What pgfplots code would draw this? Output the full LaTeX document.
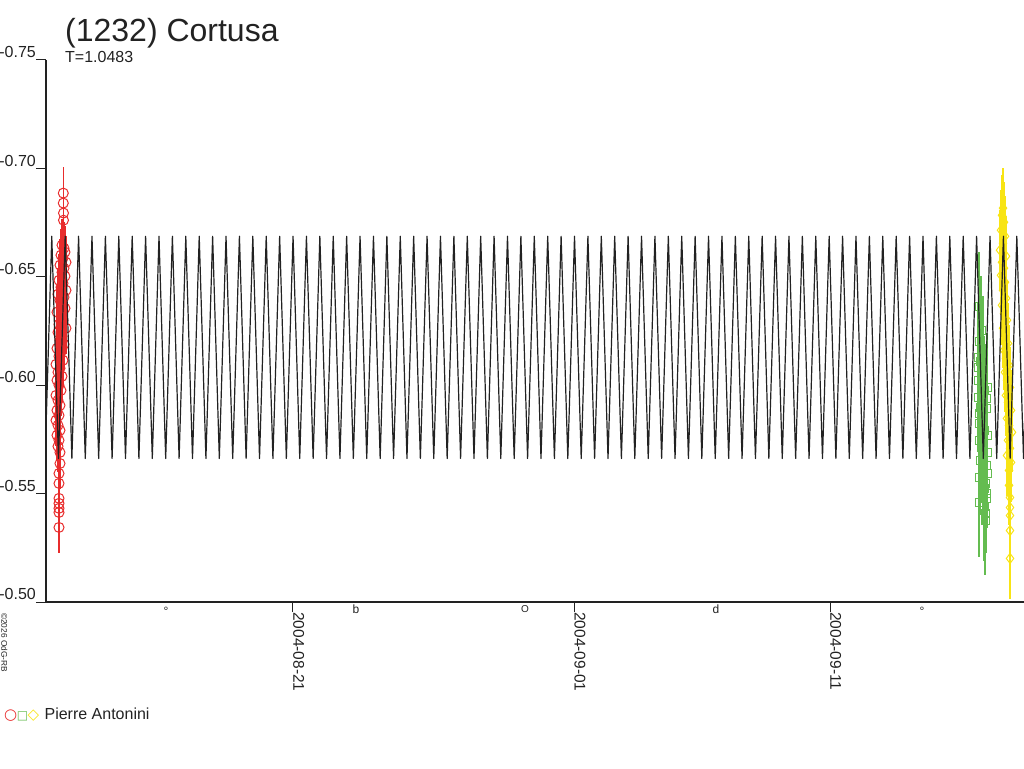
\documentclass[border=0pt]{standalone}
\usepackage{pgfplots}
\pgfplotsset{compat=1.18}
\usepackage{fontspec}
\setmainfont{Liberation Sans}
\newfontfamily\symfont{DejaVu Sans}

\definecolor{ptred}{RGB}{232,44,44}
\definecolor{ptgreen}{RGB}{100,188,80}
\definecolor{ptyellow}{RGB}{248,228,20}
\definecolor{ink}{RGB}{34,34,34}

% x: days from 2004-08-21, y: relative magnitude
\pgfplotstableread{
x y
-8.983 -0.6886
-8.983 -0.6840
-8.975 -0.6794
-8.975 -0.6761
-9.034 -0.6646
-8.956 -0.6632
-8.917 -0.6614
-9.073 -0.6600
-8.995 -0.6586
-8.878 -0.6567
-9.112 -0.6554
-8.956 -0.6540
-9.034 -0.6521
-8.917 -0.6503
-9.151 -0.6484
-8.995 -0.6470
-9.073 -0.6452
-8.878 -0.6438
-9.190 -0.6420
-8.956 -0.6406
-9.112 -0.6392
-9.034 -0.6373
-8.917 -0.6355
-9.229 -0.6337
-9.073 -0.6318
-8.995 -0.6300
-9.151 -0.6281
-8.878 -0.6263
-9.190 -0.6244
-9.034 -0.6226
-9.112 -0.6207
-8.956 -0.6189
-9.229 -0.6170
-9.073 -0.6152
-9.151 -0.6133
-8.995 -0.6115
-9.268 -0.6096
-9.112 -0.6078
-9.190 -0.6060
-9.034 -0.6041
-9.229 -0.6023
-9.151 -0.6000
-9.073 -0.5976
-9.268 -0.5953
-9.190 -0.5930
-9.112 -0.5907
-9.229 -0.5884
-9.151 -0.5861
-9.268 -0.5838
-9.190 -0.5815
-9.112 -0.5792
-9.229 -0.5769
-9.151 -0.5746
-9.190 -0.5718
-9.112 -0.5690
-9.112 -0.5639
-9.151 -0.5593
-9.151 -0.5547
-9.151 -0.5478
-9.151 -0.5455
-9.151 -0.5432
-9.151 -0.5413
-9.151 -0.5344
}\sessionA

\pgfplotstableread{
x y
26.827 -0.6364
26.905 -0.6253
26.827 -0.6203
26.984 -0.6161
26.788 -0.6129
26.866 -0.6110
26.788 -0.6083
26.945 -0.6060
26.788 -0.6023
26.905 -0.6005
27.140 -0.5990
27.023 -0.5976
26.788 -0.5944
27.101 -0.5940
26.866 -0.5898
27.101 -0.5893
26.827 -0.5870
26.945 -0.5847
26.827 -0.5824
26.905 -0.5805
27.023 -0.5792
27.140 -0.5769
26.827 -0.5746
26.984 -0.5723
26.945 -0.5705
27.140 -0.5690
26.866 -0.5653
27.101 -0.5630
26.984 -0.5612
27.140 -0.5593
26.827 -0.5575
27.062 -0.5547
27.023 -0.5525
27.101 -0.5501
27.101 -0.5478
26.827 -0.5459
27.023 -0.5440
27.062 -0.5409
27.062 -0.5376
}\sessionB

\pgfplotstableread{
x y
27.766 -0.6817
27.727 -0.6784
27.805 -0.6752
27.688 -0.6715
27.844 -0.6687
27.766 -0.6655
27.649 -0.6623
27.883 -0.6595
27.727 -0.6567
27.805 -0.6540
27.688 -0.6507
27.844 -0.6475
27.766 -0.6438
27.883 -0.6401
27.727 -0.6369
27.805 -0.6332
27.922 -0.6300
27.766 -0.6263
27.844 -0.6226
27.961 -0.6193
27.805 -0.6161
27.883 -0.6124
28.001 -0.6092
27.844 -0.6060
27.922 -0.6023
28.040 -0.5990
27.883 -0.5953
27.961 -0.5921
28.079 -0.5884
27.922 -0.5847
28.001 -0.5815
28.118 -0.5783
27.961 -0.5746
28.040 -0.5709
27.922 -0.5676
28.079 -0.5644
28.001 -0.5607
28.001 -0.5538
28.040 -0.5482
28.040 -0.5436
28.040 -0.5399
28.040 -0.5330
28.040 -0.5201
}\sessionC

% fitted curve, extrema only
\pgfplotstableread{
x y
-9.695 -0.5662
-9.433 -0.6687
-9.171 -0.5662
-8.909 -0.6687
-8.647 -0.5662
-8.385 -0.6687
-8.123 -0.5662
-7.861 -0.6687
-7.599 -0.5662
-7.336 -0.6687
-7.074 -0.5662
-6.812 -0.6687
-6.550 -0.5662
-6.288 -0.6687
-6.026 -0.5662
-5.764 -0.6687
-5.502 -0.5662
-5.240 -0.6687
-4.978 -0.5662
-4.716 -0.6687
-4.454 -0.5662
-4.192 -0.6687
-3.930 -0.5662
-3.667 -0.6687
-3.405 -0.5662
-3.143 -0.6687
-2.881 -0.5662
-2.619 -0.6687
-2.357 -0.5662
-2.095 -0.6687
-1.833 -0.5662
-1.571 -0.6687
-1.309 -0.5662
-1.047 -0.6687
-0.785 -0.5662
-0.522 -0.6687
-0.260 -0.5662
0.002 -0.6687
0.264 -0.5662
0.526 -0.6687
0.788 -0.5662
1.050 -0.6687
1.312 -0.5662
1.574 -0.6687
1.836 -0.5662
2.098 -0.6687
2.360 -0.5662
2.622 -0.6687
2.884 -0.5662
3.147 -0.6687
3.409 -0.5662
3.671 -0.6687
3.933 -0.5662
4.195 -0.6687
4.457 -0.5662
4.719 -0.6687
4.981 -0.5662
5.243 -0.6687
5.505 -0.5662
5.767 -0.6687
6.029 -0.5662
6.292 -0.6687
6.554 -0.5662
6.816 -0.6687
7.078 -0.5662
7.340 -0.6687
7.602 -0.5662
7.864 -0.6687
8.126 -0.5662
8.388 -0.6687
8.650 -0.5662
8.912 -0.6687
9.174 -0.5662
9.436 -0.6687
9.698 -0.5662
9.961 -0.6687
10.223 -0.5662
10.485 -0.6687
10.747 -0.5662
11.009 -0.6687
11.271 -0.5662
11.533 -0.6687
11.795 -0.5662
12.057 -0.6687
12.319 -0.5662
12.581 -0.6687
12.843 -0.5662
13.105 -0.6687
13.367 -0.5662
13.630 -0.6687
13.892 -0.5662
14.154 -0.6687
14.416 -0.5662
14.678 -0.6687
14.940 -0.5662
15.202 -0.6687
15.464 -0.5662
15.726 -0.6687
15.988 -0.5662
16.250 -0.6687
16.512 -0.5662
16.775 -0.6687
17.037 -0.5662
17.299 -0.6687
17.561 -0.5662
17.823 -0.6687
18.085 -0.5662
18.347 -0.6687
18.609 -0.5662
18.871 -0.6687
19.133 -0.5662
19.395 -0.6687
19.657 -0.5662
19.919 -0.6687
20.181 -0.5662
20.444 -0.6687
20.706 -0.5662
20.968 -0.6687
21.230 -0.5662
21.492 -0.6687
21.754 -0.5662
22.016 -0.6687
22.278 -0.5662
22.540 -0.6687
22.802 -0.5662
23.064 -0.6687
23.326 -0.5662
23.588 -0.6687
23.850 -0.5662
24.113 -0.6687
24.375 -0.5662
24.637 -0.6687
24.899 -0.5662
25.161 -0.6687
25.423 -0.5662
25.685 -0.6687
25.947 -0.5662
26.209 -0.6687
26.471 -0.5662
26.733 -0.6687
26.995 -0.5662
27.258 -0.6687
27.520 -0.5662
27.782 -0.6687
28.044 -0.5662
28.306 -0.6687
28.568 -0.5662
28.830 -0.6687
}\model

\begin{document}
\begin{tikzpicture}[x=1pt,y=1pt]
\path[use as bounding box] (0,0) rectangle (1024,768);

\begin{axis}[
  at={(46pt,166pt)}, anchor=south west,
  scale only axis, width=978pt, height=542pt,
  xmin=-9.659, xmax=28.587,
  ymin=-0.75, ymax=-0.50, y dir=reverse,
  axis lines*=left,
  axis line style={ink, line width=1.2pt, -},
  tick style={ink, line width=1pt},
  tick align=outside, major tick length=10pt,
  xtick={0,11,21},
  xticklabels={2004-08-21,2004-09-01,2004-09-11},
  ytick={-0.75,-0.70,-0.65,-0.60,-0.55,-0.50},
  yticklabels={-0.75,-0.70,-0.65,-0.60,-0.55,-0.50},
  yticklabel style={font=\fontsize{16}{16}\selectfont, text=ink,
    anchor=south east, inner sep=0pt, yshift=2pt},
  xticklabel style={font=\fontsize{15.5}{15.5}\selectfont, text=ink,
    rotate=-90, anchor=south west, inner sep=0pt},
  minor tick num=0,
  clip mode=individual,
]
\addplot[only marks, mark=o, mark size=5pt,
  mark options={draw=ptred, line width=1pt},
  error bars/.cd, y dir=both, y fixed=0.012,
  error mark=none, error bar style={ptred, line width=1.2pt}]
  table[x=x, y=y] {\sessionA};
\addplot[only marks, mark=square, mark size=4pt,
  mark options={draw=ptgreen, line width=1pt},
  error bars/.cd, y dir=both, y fixed=0.025,
  error mark=none, error bar style={ptgreen, line width=1.5pt}]
  table[x=x, y=y] {\sessionB};
\addplot[only marks, mark=diamond, mark size=5pt,
  mark options={draw=ptyellow, line width=1pt},
  error bars/.cd, y dir=both, y fixed=0.0185,
  error mark=none, error bar style={ptyellow, line width=1.2pt}]
  table[x=x, y=y] {\sessionC};
\addplot[ink, line width=1.2pt, line join=round, no marks]
  table[x=x, y=y] {\model};

% moon phases
\begin{scope}[every node/.style={font=\fontsize{12}{12}\selectfont, text=ink, inner sep=0pt}]
\node at (axis cs:-4.967,-0.50) [yshift=-9pt] {°};
\node at (axis cs:2.464,-0.50) [yshift=-7pt] {b};
\node at (axis cs:9.073,-0.50) [yshift=-7pt] {\fontsize{10}{10}\selectfont O};
\node at (axis cs:16.54,-0.50) [yshift=-7pt] {d};
\node at (axis cs:24.6,-0.50) [yshift=-9pt] {°};
\end{scope}
\end{axis}

\node[anchor=base west, inner sep=0pt, text=ink, font=\fontsize{32}{32}\selectfont]
  at (65,726) {(1232) Cortusa};
\node[anchor=base west, inner sep=0pt, text=ink, font=\fontsize{16}{16}\selectfont]
  at (65,705) {T=1.0483};
\node[anchor=south west, rotate=-90, inner sep=0pt, text=ink, font=\fontsize{8.3}{8.3}\selectfont]
  at (1,155) {©2026 OdG-RB};
\node[anchor=base west, inner sep=0pt, text=ink, font=\fontsize{16}{16}\selectfont]
  at (4,49) {{\symfont\fontsize{15}{15}\selectfont\textcolor{ptred}{○}\kern-0.5pt\textcolor{ptgreen}{\fontsize{12}{12}\selectfont□}\kern-0.5pt\textcolor{ptyellow}{◇}}\kern1pt\ Pierre Antonini};
\end{tikzpicture}
\end{document}
